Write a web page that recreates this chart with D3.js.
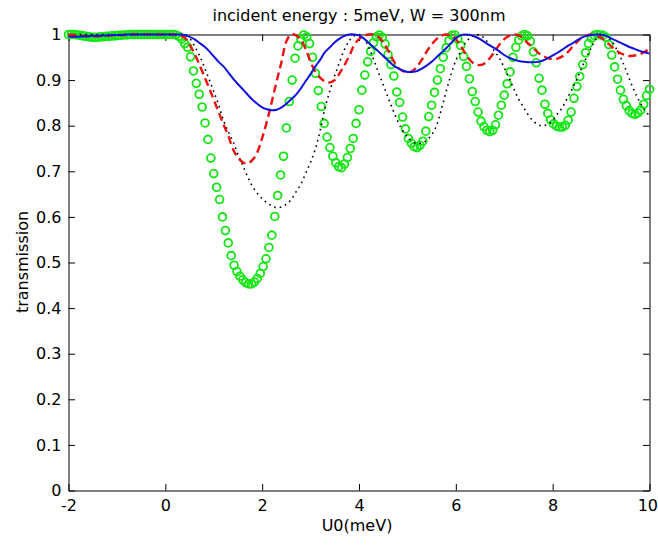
<!DOCTYPE html>
<html>
<head>
<meta charset="utf-8">
<script src="https://cdn.jsdelivr.net/npm/d3@7"></script>
<style>
  html, body { margin: 0; padding: 0; background: #ffffff; }
  svg { display: block; }
  text { font-family: "DejaVu Sans", sans-serif; fill: #000; }
</style>
</head>
<body>
<svg id="chart" width="658" height="545"></svg>
<script>
// ---------------- data ----------------
const titleText = "incident energy : 5meV, W = 300nm";
const xLabelText = "U0(meV)";
const yLabelText = "transmission";

const xTicks = [-2, 0, 2, 4, 6, 8, 10];
const yTicks = [0, 0.1, 0.2, 0.3, 0.4, 0.5, 0.6, 0.7, 0.8, 0.9, 1];

// sampling of U0 (meV): lines every 0.1, circle markers every 0.06
const lineStart = -2, lineStep = 0.1;
const markStart = -2, markStep = 0.06;

// blue solid line
const blueT = [
0.995,0.995,0.995,0.996,0.996,0.997,0.997,0.998,0.998,0.999,
0.999,0.999,1.000,1.000,1.000,1.000,1.000,1.000,1.000,1.000,
1.000,1.000,1.000,1.000,0.999,0.995,0.990,0.982,0.974,0.964,
0.952,0.940,0.930,0.917,0.903,0.891,0.880,0.868,0.857,0.848,
0.840,0.836,0.834,0.835,0.840,0.848,0.858,0.868,0.882,0.898,
0.913,0.930,0.945,0.962,0.972,0.983,0.991,0.997,1.000,1.000,
0.998,0.991,0.982,0.972,0.963,0.953,0.943,0.933,0.926,0.921,
0.918,0.918,0.920,0.925,0.932,0.940,0.950,0.960,0.970,0.981,
0.992,0.998,1.000,0.999,0.995,0.990,0.983,0.976,0.970,0.963,
0.955,0.949,0.945,0.942,0.940,0.939,0.939,0.940,0.943,0.948,
0.954,0.960,0.967,0.974,0.980,0.987,0.993,0.997,0.999,1.000,
1.000,0.997,0.992,0.987,0.982,0.977,0.972,0.968,0.964,0.961,
0.958];

// red dashed line
const redT = [
1.000,0.999,0.998,0.997,0.996,0.996,0.996,0.997,0.997,0.998,
0.998,0.999,0.999,1.000,1.000,1.000,1.000,1.000,1.000,1.000,
1.000,1.000,0.999,0.997,0.993,0.978,0.958,0.935,0.909,0.884,
0.857,0.830,0.803,0.778,0.748,0.730,0.720,0.717,0.725,0.742,
0.773,0.810,0.853,0.898,0.940,0.985,1.000,0.998,0.988,0.968,
0.940,0.918,0.905,0.897,0.895,0.900,0.915,0.933,0.953,0.977,
0.990,0.997,1.000,1.000,0.995,0.983,0.965,0.945,0.928,0.920,
0.917,0.920,0.930,0.945,0.963,0.978,0.990,0.997,1.000,0.998,
0.990,0.975,0.958,0.943,0.935,0.933,0.937,0.948,0.962,0.978,
0.990,0.997,1.000,0.998,0.990,0.980,0.970,0.960,0.953,0.948,
0.946,0.947,0.952,0.960,0.972,0.983,0.993,0.998,1.000,0.998,
0.993,0.985,0.975,0.966,0.959,0.955,0.953,0.954,0.957,0.962,
0.968];

// black dotted line
const blackT = [
1.000,1.000,1.000,1.000,1.000,1.000,1.000,1.000,1.000,1.000,
1.000,1.000,1.000,1.000,1.000,1.000,1.000,1.000,1.000,1.000,
1.000,1.000,1.000,1.000,0.998,0.992,0.975,0.955,0.930,0.903,
0.875,0.846,0.812,0.787,0.765,0.737,0.713,0.688,0.667,0.652,
0.640,0.631,0.624,0.620,0.622,0.628,0.638,0.655,0.672,0.696,
0.720,0.750,0.790,0.840,0.877,0.910,0.940,0.967,0.986,0.997,
1.000,0.992,0.972,0.946,0.917,0.890,0.862,0.835,0.810,0.790,
0.775,0.765,0.761,0.762,0.768,0.780,0.800,0.835,0.875,0.912,
0.943,0.963,0.982,0.993,0.999,0.999,0.990,0.977,0.963,0.948,
0.927,0.905,0.880,0.858,0.840,0.823,0.810,0.802,0.800,0.803,
0.812,0.826,0.840,0.860,0.880,0.902,0.927,0.950,0.972,0.990,
0.998,0.997,0.988,0.972,0.950,0.926,0.898,0.873,0.852,0.834,
0.822];

// green circle markers
const greenT = [
1.000,1.000,1.000,0.999,0.998,0.997,0.996,0.995,0.994,0.994,
0.994,0.995,0.995,0.996,0.996,0.997,0.997,0.998,0.998,0.999,
0.999,1.000,1.000,1.000,1.000,1.000,1.000,1.000,1.000,1.000,
1.000,1.000,1.000,1.000,1.000,1.000,1.000,
0.999,0.996,0.990,0.980,0.972,0.951,0.920,0.893,0.869,0.841,
0.806,0.770,0.729,0.695,0.665,0.638,0.600,0.570,0.543,0.515,
0.494,0.480,0.470,0.462,0.456,0.453,0.453,0.457,0.465,0.476,
0.491,0.508,0.533,0.560,0.601,0.647,0.692,0.733,0.795,0.853,
0.900,0.948,0.975,0.990,0.999,0.995,0.980,0.950,0.915,0.877,
0.842,0.805,0.775,0.752,0.733,0.719,0.710,0.708,0.716,0.730,
0.750,0.772,0.805,0.835,0.878,0.911,0.940,0.963,0.982,0.995,
0.999,0.994,0.979,0.956,0.934,0.909,0.874,0.851,0.819,0.793,
0.772,0.762,0.754,0.752,0.757,0.766,0.788,0.820,0.845,0.873,
0.900,0.925,0.950,0.971,0.987,0.998,0.999,0.990,0.976,0.952,
0.930,0.903,0.875,0.853,0.830,0.810,0.798,0.790,0.787,0.790,
0.802,0.823,0.845,0.867,0.892,0.918,0.950,0.972,0.988,0.997,
1.000,0.997,0.985,0.962,0.938,0.904,0.878,0.847,0.827,0.813,
0.804,0.799,0.797,0.797,0.801,0.812,0.830,0.860,0.886,0.908,
0.934,0.960,0.980,0.992,0.998,1.000,0.999,0.998,0.994,0.978,
0.955,0.929,0.902,0.878,0.858,0.844,0.833,0.827,0.825,0.828,
0.834,0.847,0.866,0.880];

// ---------------- drawing ----------------
const svg = d3.select("#chart");
const x = d3.scaleLinear().domain([-2, 10]).range([68.5, 649.5]);
const y = d3.scaleLinear().domain([0, 1]).range([490.5, 34.5]);

const lineU = blueT.map((_, i) => lineStart + i * lineStep);
const markU = greenT.map((_, i) => markStart + i * markStep);

const fmt = d => String(d);
const TICK = 6.5;

// axes (ticks pointing inwards, box on)
const gB = svg.append("g").attr("transform", `translate(0,${y(0)})`)
  .call(d3.axisBottom(x).tickValues(xTicks).tickFormat(fmt).tickSizeInner(-TICK).tickSizeOuter(0).tickPadding(9.5));
const gT = svg.append("g").attr("transform", `translate(0,${y(1)})`)
  .call(d3.axisTop(x).tickValues(xTicks).tickFormat("").tickSizeInner(-TICK).tickSizeOuter(0));
const gL = svg.append("g").attr("transform", `translate(${x(-2)},0)`)
  .call(d3.axisLeft(y).tickValues(yTicks).tickFormat(fmt).tickSizeInner(-TICK).tickSizeOuter(0).tickPadding(7));
const gR = svg.append("g").attr("transform", `translate(${x(10)},0)`)
  .call(d3.axisRight(y).tickValues(yTicks).tickFormat("").tickSizeInner(-TICK).tickSizeOuter(0));

[gB, gT, gL, gR].forEach(g => {
  g.selectAll("path.domain").attr("stroke", "#000").attr("stroke-width", 1);
  g.selectAll(".tick line").attr("stroke", "#000").attr("stroke-width", 1);
  g.selectAll(".tick text").style("font-family", '"DejaVu Sans", sans-serif').style("font-size", "16px").attr("fill", "#000");
});
// keep the last x tick label ("10") inside the window
gB.selectAll(".tick text").filter(d => d === 10).attr("text-anchor", "end").attr("dx", "8");

// green circles (drawn first)
svg.append("g").selectAll("circle").data(greenT).join("circle")
  .attr("cx", (d, i) => x(markU[i]))
  .attr("cy", d => y(d))
  .attr("r", 3.9)
  .attr("fill", "none")
  .attr("stroke", "#14e614")
  .attr("stroke-width", 1.8);

const mkLine = vals => d3.line()
  .x((d, i) => x(lineU[i]))
  .y(d => y(d))
  .curve(d3.curveCatmullRom.alpha(0.5))(vals);

svg.append("path").attr("d", mkLine(blackT))
  .attr("fill", "none").attr("stroke", "#000").attr("stroke-width", 1.6)
  .attr("stroke-dasharray", "1.6,4");

svg.append("path").attr("d", mkLine(redT))
  .attr("fill", "none").attr("stroke", "#ee1111").attr("stroke-width", 2.4)
  .attr("stroke-dasharray", "8,4.5");

svg.append("path").attr("d", mkLine(blueT))
  .attr("fill", "none").attr("stroke", "#1010e0").attr("stroke-width", 2);

// texts
svg.append("text").attr("x", 359).attr("y", 21).attr("text-anchor", "middle")
  .style("font-size", "16px").text(titleText);
svg.append("text").attr("x", 357).attr("y", 531).attr("text-anchor", "middle")
  .style("font-size", "16px").text(xLabelText);
svg.append("text").attr("transform", "translate(28,262) rotate(-90)").attr("text-anchor", "middle")
  .style("font-size", "16px").text(yLabelText);
</script>
</body>
</html>
